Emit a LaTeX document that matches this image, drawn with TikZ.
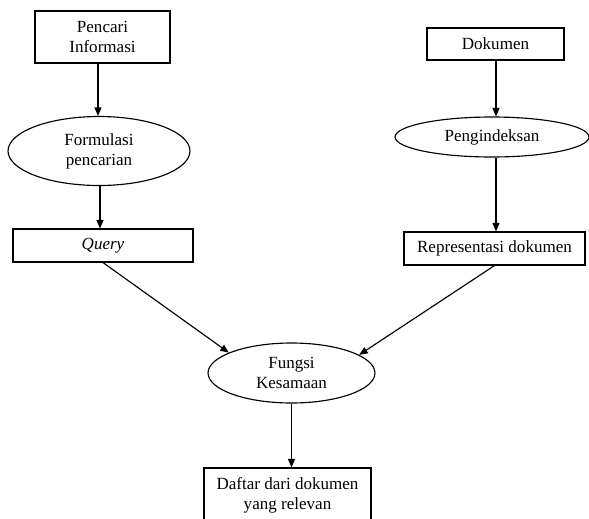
\documentclass[tikz,border=0pt]{standalone}
\usepackage{fontspec}
\setmainfont{Liberation Serif}
\usetikzlibrary{shapes, arrows.meta, positioning, calc}

\begin{document}
\begin{tikzpicture}[x=0.02cm, y=-0.02cm,
  box/.style={draw, line width=0.65pt, align=center, inner sep=0pt,
    font=\fontsize{9.7}{11.4}\selectfont},
  oval/.style={box, ellipse},
  link/.style={-{Triangle[length=0.17cm,width=0.14cm]}, line width=0.65pt}]
  % Page frame
  \useasboundingbox (0,0) rectangle (589,518);

  % Left column
  \node[box, minimum width=2.7cm, minimum height=1.04cm] (pencari) at (102.5,37) {Pencari\\Informasi};
  \node[oval, minimum width=3.64cm, minimum height=1.38cm] (formulasi) at (99,151) {Formulasi\\pencarian};
  \node[box, minimum width=3.6cm, minimum height=0.66cm] (query) at (103,245.5) {\textit{Query}};

  % Right column
  \node[box, minimum width=2.74cm, minimum height=0.64cm] (dokumen) at (495.5,44) {Dokumen};
  \node[oval, minimum width=3.88cm, minimum height=0.8cm] (indeks) at (492,137) {Pengindeksan};
  \node[box, minimum width=3.62cm, minimum height=0.66cm] (repr) at (494.5,248.5) {Representasi dokumen};

  % Bottom
  \node[oval, minimum width=3.34cm, minimum height=1.2cm] (fungsi) at (291.5,373) {Fungsi\\Kesamaan};
  \node[box, minimum width=3.34cm, minimum height=1.08cm] (daftar) at (287.5,495) {Daftar dari dokumen\\yang relevan};

  % Arrows
  \draw[link] (pencari.south -| 98,0) -- (formulasi.north -| 98,0);
  \draw[link] (formulasi.south -| 100,0) -- (query.north -| 100,0);
  \draw[link] (dokumen.south -| 496,0) -- (indeks.north -| 496,0);
  \draw[link] (indeks.south -| 496,0) -- (repr.north -| 496,0);
  \draw[link] (query.south) -- (fungsi.162);
  \draw[link] (repr.south) -- (fungsi.15);
  \draw[link] (fungsi.south) -- (daftar.north -| fungsi.south);
\end{tikzpicture}
\end{document}
